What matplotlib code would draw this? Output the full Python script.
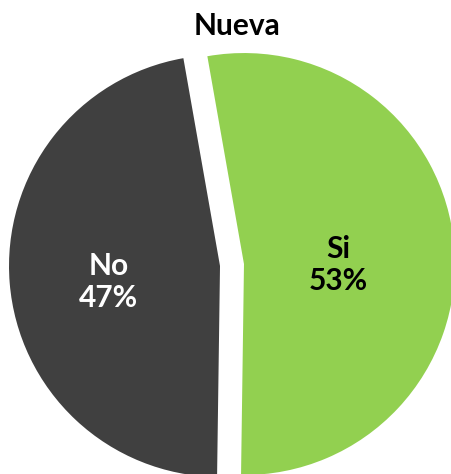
import matplotlib.pyplot as plt

# Survey answers for "Nueva"
categories = ["Si", "No"]
shares = [53, 47]
colors = ["#92D050", "#404040"]
label_colors = ["black", "white"]
title = "Nueva"

fig = plt.figure(figsize=(4.52, 4.74), dpi=100)
ax = fig.add_axes([0, 0, 1, 1])

wedges, texts, autotexts = ax.pie(
    shares,
    colors=colors,
    startangle=100,
    counterclock=False,
    explode=[0.057, 0.057],
    autopct=lambda p: "",
    pctdistance=0.5,
    wedgeprops={"linewidth": 0},
)

for w, t, cat, share, col in zip(wedges, autotexts, categories, shares, label_colors):
    t.set_text(f"{cat}\n{share}%")
    t.set_color(col)
    t.set_fontfamily(["Lato", "DejaVu Sans"])
    t.set_fontweight("bold")
    t.set_fontsize(21.5)
    t.set_linespacing(1.2)

# nudge label positions to match the reference layout
autotexts[0].set_position((0.505, 0.0))
autotexts[1].set_position((-0.585, -0.08))

# pie centre at (232, 265) px, radius 211 px
cx, cy, r = 232, 265, 211
ax.set_aspect("equal")
ax.set_xlim(-cx / r, (452 - cx) / r)
ax.set_ylim(-(474 - cy) / r, cy / r)
ax.axis("off")

fig.text(237 / 452, 1 - 35 / 474, title, ha="center", va="baseline",
         fontsize=21.5, fontweight="bold", family=["Lato", "DejaVu Sans"])

fig.savefig("out.png", dpi=100)
